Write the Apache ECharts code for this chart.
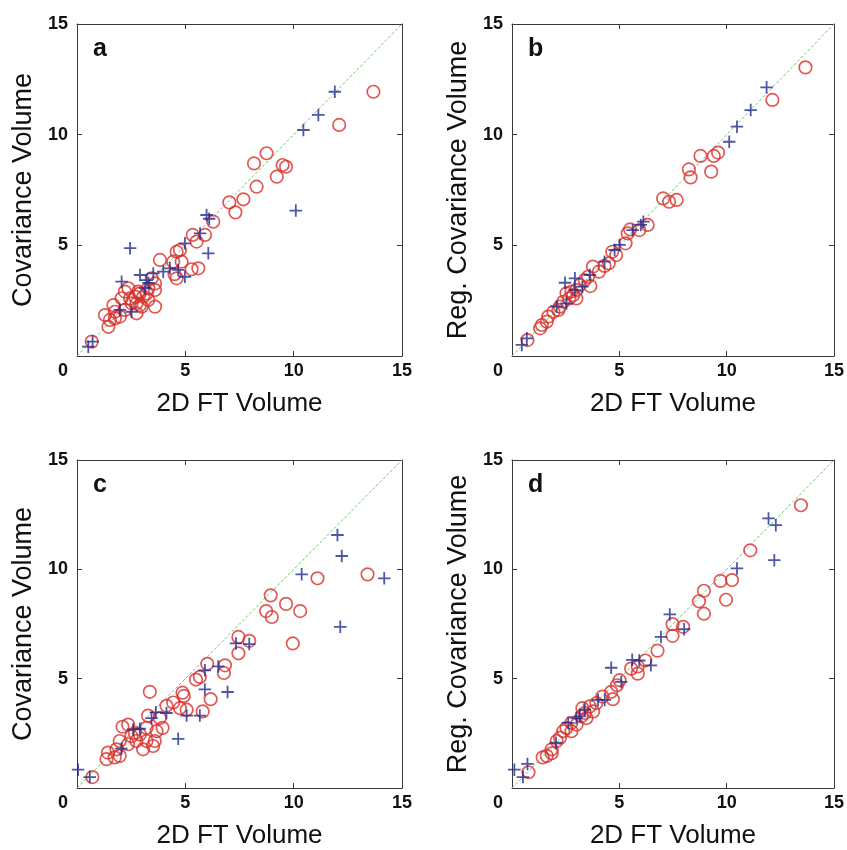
<!DOCTYPE html>
<html><head><meta charset="utf-8">
<script src="https://cdn.jsdelivr.net/npm/echarts@6/dist/echarts.min.js"></script>
<style>html,body{margin:0;padding:0;background:#fff}#c{width:847px;height:850px}</style>
</head><body><div id="c"></div>
<script>
// ---- data ----
const panelLetters = ['a', 'b', 'c', 'd'];
const xTitles = ['2D FT Volume', '2D FT Volume', '2D FT Volume', '2D FT Volume'];
const yTitles = ['Covariance Volume', 'Reg. Covariance Volume', 'Covariance Volume', 'Reg. Covariance Volume'];
const tickValues = [0, 5, 10, 15];
const identityLine = [[0, 0], [15, 15]];

const aRed = [[13.68,11.94],[12.1,10.44],[8.75,9.16],[8.17,8.7],[9.49,8.63],[9.65,8.55],[9.22,8.1],[8.29,7.65],[7.68,7.08],[7.03,6.94],[7.31,6.49],[6.29,6.07],[5.91,5.47],[5.34,5.47],[5.52,5.17],[4.75,4.79],[4.6,4.71],[4.83,4.26],[4.44,4.26],[3.83,4.34],[5.29,3.92],[5.6,3.96],[4.5,3.7],[4.6,3.51],[3.45,3.51],[3.6,3.28],[3.29,3.06],[3.6,2.98],[2.83,2.91],[2.37,3.06],[2.21,2.91],[2.68,2.68],[3.06,2.68],[3.29,2.53],[2.06,2.61],[2.52,2.38],[2.91,2.3],[3.6,2.23],[1.68,2.3],[1.75,2.0],[1.29,1.85],[1.52,1.63],[1.75,1.7],[1.45,1.32],[1.98,1.78],[2.21,2.08],[2.75,1.93],[0.68,0.65],[2.45,2.6],[2.75,2.38],[2.98,2.23],[3.22,2.83],[2.9,2.83]];
const aBlue = [[11.9,11.94],[11.14,10.89],[10.45,10.21],[10.1,6.57],[5.98,6.37],[6.1,6.2],[5.68,5.54],[6.06,4.64],[4.98,5.09],[2.45,4.87],[4.98,3.58],[4.29,3.96],[3.98,3.81],[4.67,3.89],[3.52,3.73],[2.91,3.66],[3.22,3.43],[2.06,3.36],[3.14,3.06],[2.52,2.0],[1.98,2.08],[0.52,0.42],[0.72,0.65],[3.3,3.3]];

const bRed = [[13.67,13.04],[12.13,11.57],[9.6,9.19],[9.4,9.04],[8.78,9.04],[8.24,8.43],[8.32,8.07],[9.28,8.33],[7.04,7.12],[7.32,6.97],[7.67,7.05],[6.32,5.92],[5.93,5.69],[5.5,5.72],[5.39,5.54],[5.29,5.09],[4.85,4.56],[4.67,4.71],[4.51,4.19],[4.31,4.07],[3.77,4.04],[4.05,3.81],[3.54,3.58],[3.39,3.43],[3.65,3.16],[3.16,3.21],[3.0,2.98],[2.77,2.91],[2.54,2.83],[2.67,2.6],[2.39,2.45],[2.23,2.23],[1.93,2.0],[1.69,1.78],[1.62,1.55],[1.31,1.25],[1.39,1.4],[0.72,0.72],[3.0,2.6],[2.85,2.75],[2.16,2.08]];
const bBlue = [[11.86,12.14],[11.12,11.11],[10.48,10.36],[10.12,9.68],[6.12,6.07],[6.0,5.92],[5.62,5.69],[5.01,5.02],[4.78,4.79],[4.31,4.26],[3.62,3.66],[2.93,3.51],[2.47,3.31],[3.28,3.13],[2.93,2.98],[2.08,2.23],[2.54,2.38],[0.46,0.5],[0.69,0.8]];

const cRed = [[13.41,9.77],[11.1,9.59],[8.94,8.81],[9.65,8.42],[8.73,8.09],[10.3,8.09],[8.99,7.82],[9.96,6.61],[7.45,6.91],[7.95,6.73],[7.45,6.16],[6.83,5.61],[6.78,5.26],[6.01,5.68],[5.67,5.08],[5.49,4.96],[3.36,4.4],[4.87,4.36],[4.93,4.21],[6.17,4.06],[4.44,3.91],[4.13,3.76],[4.75,3.65],[5.06,3.58],[5.8,3.5],[3.28,3.31],[3.82,3.2],[3.95,2.75],[2.1,2.8],[2.36,2.9],[3.21,2.75],[3.67,2.6],[2.9,2.45],[2.51,2.37],[1.97,2.15],[2.74,2.15],[3.21,2.15],[3.59,2.15],[3.05,1.77],[2.36,2.0],[1.82,1.77],[1.43,1.62],[1.36,1.32],[1.74,1.4],[1.97,1.47],[0.71,0.5],[3.51,1.92],[2.67,2.52]];
const cBlue = [[12.02,11.57],[12.22,10.61],[10.37,9.77],[14.18,9.59],[12.15,7.37],[7.34,6.61],[7.95,6.58],[6.52,5.56],[5.9,5.38],[5.9,4.51],[6.95,4.39],[5.67,3.31],[5.06,3.31],[4.13,3.43],[3.64,3.46],[3.44,3.2],[2.9,2.71],[2.59,2.68],[4.67,2.25],[2.05,1.8],[0.05,0.84],[0.59,0.5]];

const dRed = [[13.46,12.93],[11.1,10.87],[9.71,9.47],[10.25,9.51],[8.94,9.02],[8.71,8.54],[9.97,8.61],[8.94,7.97],[7.48,7.49],[7.97,7.37],[7.48,6.96],[6.78,6.28],[6.21,5.83],[5.86,5.56],[5.55,5.46],[5.86,5.23],[5.01,4.93],[4.89,4.7],[4.62,4.4],[4.21,4.18],[4.7,4.06],[3.93,3.88],[3.62,3.73],[3.28,3.65],[3.78,3.5],[3.39,3.43],[2.77,2.98],[2.54,2.75],[2.39,2.6],[2.77,2.6],[2.24,2.3],[2.08,2.15],[1.85,1.77],[1.62,1.47],[1.43,1.4],[1.85,1.59],[0.77,0.72],[3.24,3.28],[3.01,2.9],[3.47,3.2]];
const dBlue = [[11.95,12.33],[12.29,12.02],[12.22,10.42],[10.48,10.04],[7.35,7.94],[8.02,7.26],[6.94,6.91],[5.6,5.86],[5.93,5.83],[6.47,5.61],[4.62,5.5],[5.09,4.85],[4.32,4.03],[4.01,4.03],[3.39,3.58],[3.0,3.2],[2.62,2.98],[3.16,3.28],[2.05,2.07],[0.11,0.84],[0.72,1.1],[0.51,0.5]];

const redSets = [aRed, bRed, cRed, dRed];
const blueSets = [aBlue, bBlue, cBlue, dBlue];

// ---- layout ----
const grids = [
  {left: 77, top: 24, width: 325, height: 332},
  {left: 512, top: 24, width: 324, height: 332},
  {left: 77, top: 460, width: 325, height: 333},
  {left: 512, top: 460, width: 324, height: 333}
];
const FONT = 'Liberation Sans, Arial, Helvetica, sans-serif';
const boxColor = '#3a3a3a';
const RED = '#d8302b';
const BLUE = '#232c8c';
const PLUS = 'path://M5,0 L5,10 M0,5 L10,5';

const xAxes = [], yAxes = [], series = [], graphics = [];
grids.forEach((g, i) => {
  const common = {
    gridIndex: i, type: 'value', min: 0, max: 15, interval: 5,
    splitLine: {show: false},
    axisLine: {show: true, onZero: false, lineStyle: {color: boxColor, width: 1}},
    axisTick: {show: true, inside: true, length: 5, lineStyle: {color: boxColor}}
  };
  xAxes.push(Object.assign({}, common, {
    position: 'bottom',
    name: xTitles[i], nameLocation: 'middle', nameGap: 35,
    nameTextStyle: {fontFamily: FONT, fontSize: 26, color: '#111'},
    axisLabel: {
      fontFamily: FONT, fontSize: 18, fontWeight: 'bold', color: '#111', margin: 6,
      formatter: v => v === tickValues[0] ? '{z|0}' : String(v),
      rich: {z: {fontFamily: FONT, fontSize: 18, fontWeight: 'bold', color: '#111', padding: [0, 28, 0, 0]}}
    }
  }));
  xAxes.push(Object.assign({}, common, {position: 'top', axisLabel: {show: false}}));
  yAxes.push(Object.assign({}, common, {
    position: 'left',
    name: yTitles[i], nameLocation: 'middle', nameGap: 40,
    nameTextStyle: {fontFamily: FONT, fontSize: 27, color: '#111'},
    axisLabel: {
      fontFamily: FONT, fontSize: 18, fontWeight: 'bold', color: '#111', margin: 9,
      formatter: v => v === tickValues[0] ? '' : String(v)
    }
  }));
  yAxes.push(Object.assign({}, common, {position: 'right', axisLabel: {show: false}}));

  series.push({
    type: 'line', xAxisIndex: 2 * i, yAxisIndex: 2 * i, data: identityLine,
    symbol: 'none', silent: true, z: 1,
    lineStyle: {color: '#74c474', width: 1, type: [3, 2]}
  });
  series.push({
    type: 'scatter', xAxisIndex: 2 * i, yAxisIndex: 2 * i, data: redSets[i],
    symbol: 'circle', symbolSize: 12.5, z: 3,
    itemStyle: {color: 'rgba(0,0,0,0)', borderColor: RED, borderWidth: 1.7}
  });
  series.push({
    type: 'scatter', xAxisIndex: 2 * i, yAxisIndex: 2 * i, data: blueSets[i],
    symbol: PLUS, symbolSize: 12.5, symbolKeepAspect: true, z: 4,
    itemStyle: {color: 'rgba(0,0,0,0)', borderColor: BLUE, borderWidth: 1.8}
  });

  graphics.push({
    type: 'text', left: g.left + 16, top: g.top + 13, z: 10,
    style: {text: panelLetters[i], font: 'bold 25px ' + FONT, fill: '#111'}
  });
});

const chart = echarts.init(document.getElementById('c'), null, {renderer: 'canvas'});
chart.setOption({
  animation: false,
  backgroundColor: '#fff',
  grid: grids.map(g => Object.assign({containLabel: false}, g)),
  xAxis: xAxes,
  yAxis: yAxes,
  series: series,
  graphic: graphics
});
</script></body></html>
